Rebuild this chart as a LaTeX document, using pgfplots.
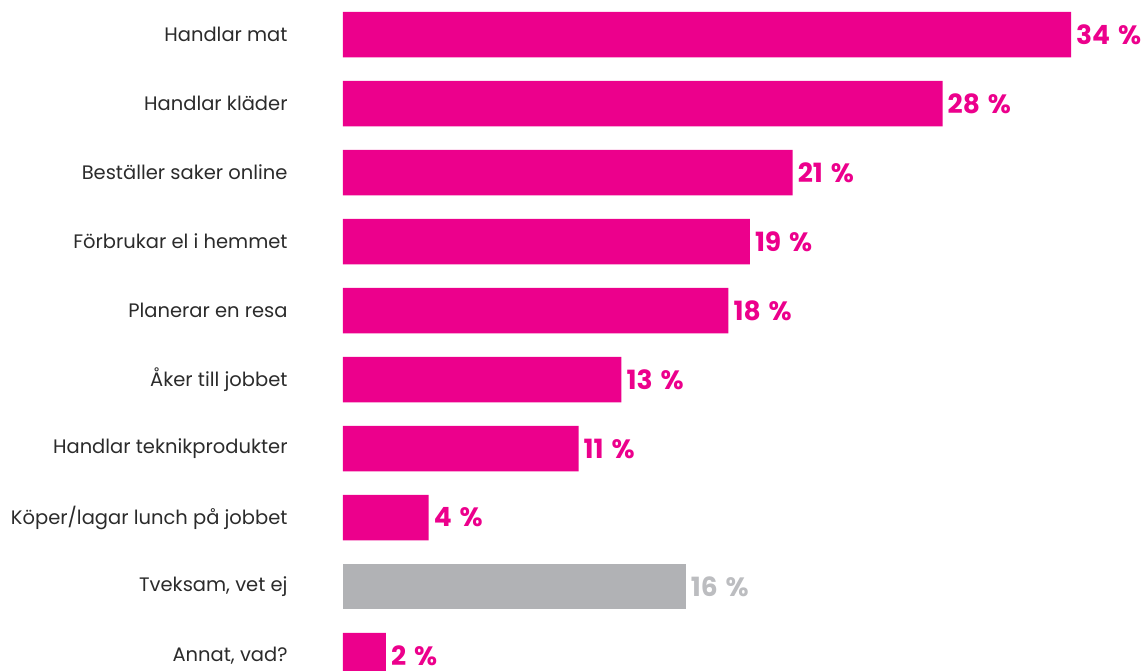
\documentclass[border=0pt]{standalone}
\usepackage{pgfplots}
\pgfplotsset{compat=1.18}
\usepackage{fontspec}
\setmainfont{Poppins}
\definecolor{pinkbar}{HTML}{EC008C}
\definecolor{graybar}{HTML}{B1B2B5}
\definecolor{graytext}{HTML}{BCBDC0}
\definecolor{labeltext}{HTML}{2B2B2B}
\begin{document}
\begin{tikzpicture}
\begin{axis}[
  at={(343pt,-34.5pt)}, anchor=north west,
  scale only axis, width=728pt, height=621pt,
  xmin=0, xmax=34, ymin=0, ymax=9, y dir=reverse,
  enlargelimits=false, clip=false,
  xbar, bar width=45.5pt, bar shift=0pt,
  axis line style={draw=none}, tick style={draw=none},
  /pgf/number format/assume math mode=true,
  xtick=\empty,
  ytick={0,...,9},
  yticklabels={Handlar mat,Handlar kläder,Beställer saker online,Förbrukar el i hemmet,Planerar en resa,Åker till jobbet,Handlar teknikprodukter,Köper/lagar lunch på jobbet,{Tveksam, vet ej},{Annat, vad?}},
  yticklabel style={anchor=east, inner sep=0pt, xshift=-51pt, font=\fontsize{19.5}{22}\selectfont, text=labeltext},
  nodes near coords={\pgfmathprintnumber{\pgfplotspointmeta}\hspace{0.3em}\%},
  every node near coord/.append style={anchor=west, inner sep=0pt, xshift=5pt, font=\bfseries\fontsize{26.5}{30}\selectfont},
]
\addplot[fill=pinkbar, draw=none, every node near coord/.append style={text=pinkbar}] coordinates {
(34,0) (28,1) (21,2) (19,3) (18,4) (13,5) (11,6) (4,7) (2,9)};
\addplot[fill=graybar, draw=none, every node near coord/.append style={text=graytext}] coordinates {(16,8)};
\end{axis}
\pgfresetboundingbox
\useasboundingbox (0,0) rectangle (1144pt,-670pt);
\end{tikzpicture}
\end{document}
